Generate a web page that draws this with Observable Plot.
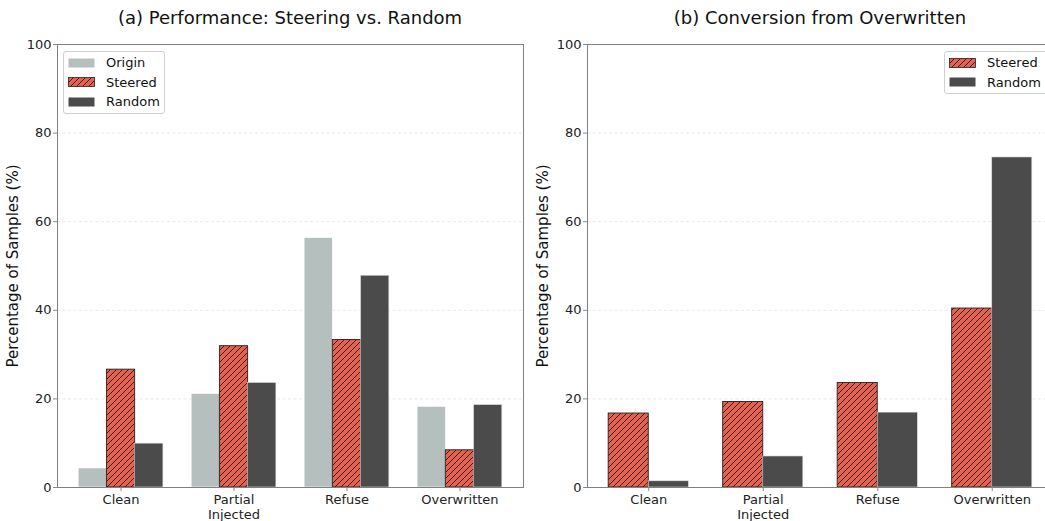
<!DOCTYPE html>
<html><head><meta charset="utf-8">
<script src="https://cdn.jsdelivr.net/npm/d3@7"></script>
<script src="https://cdn.jsdelivr.net/npm/@observablehq/plot@0.6"></script>
<style>
body{margin:0;background:#fff;overflow:hidden;font-family:"DejaVu Sans",sans-serif;}
#root{position:relative;width:1045px;height:521px;overflow:hidden;background:#fff;}
.panel{position:absolute;top:0;width:530px;height:521px;}
.title{position:absolute;font-size:18px;color:#111;white-space:nowrap;transform:translateX(-50%);top:7px;line-height:21px;}
.legend{position:absolute;border:1px solid #d0d0d0;border-radius:3px;background:rgba(255,255,255,0.85);font-size:13px;color:#111;box-sizing:border-box;}
.row{position:absolute;left:0;height:19.5px;display:flex;align-items:center;white-space:nowrap;}
.row svg{margin-left:4px;margin-right:11px;}
</style></head>
<body>
<svg width="0" height="0" style="position:absolute">
  <defs>
    <pattern id="hatch" patternUnits="userSpaceOnUse" width="6" height="6">
      <rect width="6" height="6" fill="#e8604e"></rect>
      <path d="M-1,1 l2,-2 M0,6 l6,-6 M5,7 l2,-2" stroke="#1a1a1a" stroke-width="0.9"></path>
    </pattern>
  </defs>
</svg>
<div id="root"></div>
<script>
const categories = ["Clean", "Partial\nInjected", "Refuse", "Overwritten"];
const aSeries = ["Origin", "Steered", "Random"];
const aOrigin  = [4.3, 21.1, 56.3, 18.2];
const aSteered = [26.6, 31.9, 33.3, 8.4];
const aRandom  = [9.9, 23.6, 47.8, 18.6];
const bSeries = ["Steered", "Random"];
const bSteered = [16.7, 19.3, 23.6, 40.4];
const bRandom  = [1.4, 7.0, 16.9, 74.5];
const yTicks = [0, 20, 40, 60, 80, 100];
const gridTicks = [20, 40, 60, 80];
const titleA = "(a) Performance: Steering vs. Random";
const titleB = "(b) Conversion from Overwritten";
const yLabel = "Percentage of Samples (%)";

const styles = {
  Origin:  {fill: "#b4bfbe", stroke: "#ffffff", strokeWidth: 0.6},
  Steered: {fill: "url(#hatch)", stroke: "#222222", strokeWidth: 0.9},
  Random:  {fill: "#4b4b4b", stroke: "#dddddd", strokeWidth: 0.6}
};

function buildRows(series, valueArrays, barW) {
  const n = series.length;
  const rows = [];
  series.forEach((s, j) => {
    valueArrays[j].forEach((v, i) => {
      const off = (j - (n - 1) / 2) * barW;
      rows.push({series: s, x1: i + off - barW / 2, x2: i + off + barW / 2, value: v});
    });
  });
  return rows;
}

function makePanel(rows, series, xDomain) {
  const marks = [
    Plot.ruleY(gridTicks, {stroke: "#e2e2e2", strokeWidth: 0.8, strokeDasharray: "3,2.5"})
  ];
  series.forEach(s => {
    marks.push(Plot.rectY(rows.filter(r => r.series === s), {
      x1: "x1", x2: "x2", y1: 0, y2: "value", ...styles[s]
    }));
  });
  marks.push(
    Plot.axisY({ticks: yTicks, tickSize: 4, tickPadding: 2, fontSize: 13, stroke: "#888", color: "#222", label: null}),
    Plot.text([yLabel], {frameAnchor: "left", rotate: -90, dx: -44, fontSize: 15, fill: "#111", textAnchor: "middle", lineAnchor: "middle"}),
    Plot.axisX({ticks: [0, 1, 2, 3], tickFormat: i => categories[i], tickSize: 4, tickPadding: 2,
      fontSize: 13, stroke: "#888", color: "#222", label: null, lineHeight: 1.13}),
    Plot.frame({stroke: "#808080", strokeWidth: 1})
  );
  return Plot.plot({
    width: 530, height: 521,
    marginTop: 44, marginBottom: 34, marginLeft: 57, marginRight: 7,
    style: {fontFamily: "DejaVu Sans", fontSize: "13px", color: "#222", background: "transparent", overflow: "visible"},
    x: {type: "linear", domain: xDomain},
    y: {domain: [0, 100]},
    marks
  });
}

function swatch(s) {
  const st = styles[s];
  const stroke = s === "Steered" ? "#222" : "none";
  return `<svg width="27" height="10"><rect x="0.5" y="0.5" width="26" height="9" fill="${st.fill}" stroke="${stroke}" stroke-width="0.8"></rect></svg>`;
}

function legend(series, left, top, width) {
  const el = document.createElement("div");
  el.className = "legend";
  el.style.left = left + "px";
  el.style.top = top + "px";
  el.style.width = width + "px";
  el.style.height = (series.length * 19.5 + 4) + "px";
  series.forEach((s, i) => {
    const r = document.createElement("div");
    r.className = "row";
    r.style.top = (1 + i * 19.5) + "px";
    r.innerHTML = swatch(s) + `<span>${s}</span>`;
    el.appendChild(r);
  });
  return el;
}

const root = document.getElementById("root");

const pA = document.createElement("div");
pA.className = "panel"; pA.style.left = "0px";
pA.appendChild(makePanel(buildRows(aSeries, [aOrigin, aSteered, aRandom], 0.25), aSeries, [-0.5625, 3.5625]));
root.appendChild(pA);

const pB = document.createElement("div");
pB.className = "panel"; pB.style.left = "530px";
pB.appendChild(makePanel(buildRows(bSeries, [bSteered, bRandom], 0.35), bSeries, [-0.535, 3.535]));
root.appendChild(pB);

const tA = document.createElement("div");
tA.className = "title"; tA.style.left = "290px"; tA.textContent = titleA;
root.appendChild(tA);
const tB = document.createElement("div");
tB.className = "title"; tB.style.left = "820px"; tB.textContent = titleB;
root.appendChild(tB);

root.appendChild(legend(aSeries, 63, 51, 102));
root.appendChild(legend(bSeries, 944, 51, 106));
</script>
</body></html>
